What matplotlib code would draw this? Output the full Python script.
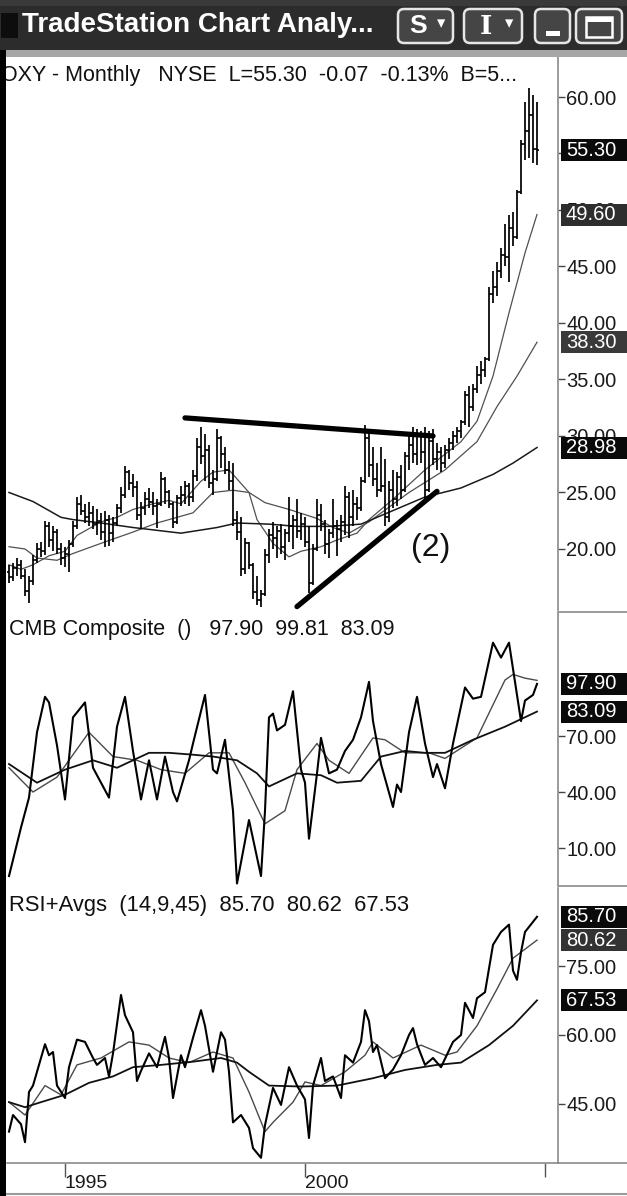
import matplotlib
matplotlib.use("Agg")
import matplotlib.pyplot as plt
import matplotlib.transforms as mtransforms
from matplotlib.patches import Rectangle, FancyBboxPatch
import numpy as np

plt.rcParams['font.family'] = ['Liberation Sans', 'DejaVu Sans']

# ---------------- data (monthly, index 0 = Nov 1993 ... 132 = Nov 2004) ----------------
first_year, first_month = 1993, 11
year_ticks = [1995, 2000, 2005]
year_labels = ['1995', '2000', '']

opens = [18.0, 17.5, 18.3, 18.6, 17.6, 16.3, 17.2,
         19.0, 20.0, 19.8, 22.0, 20.8, 21.5, 20.0, 19.2, 19.6,
         20.4, 22.0, 24.0, 23.4, 22.8, 23.2, 22.2, 22.5, 21.5, 22.6, 21.4, 22.3,
         23.6, 24.8, 26.8, 25.8, 25.5, 23.0,
         23.6, 24.4, 24.2, 23.8, 24.0, 26.2, 25.0, 24.0, 22.4, 24.5, 24.8, 25.6,
         24.6, 26.5, 29.0, 28.2, 28.8, 25.8, 26.2, 29.8, 28.4, 27.0,
         26.0, 22.6, 21.5, 18.2, 20.5, 18.6, 16.2, 15.5, 16.0, 19.5,
         21.2, 21.0, 21.6, 20.2, 21.4, 22.0, 22.6, 21.6, 22.2,
         20.6, 17.0, 20.0, 23.0, 22.2, 20.4, 21.4, 22.0, 21.8,
         22.4, 24.6, 22.8, 24.0, 23.6, 26.0, 29.8,
         27.4, 26.2, 25.2, 25.6, 22.8, 25.2, 24.4, 26.4, 25.2, 28.2, 29.2, 28.4, 30.2, 28.6,
         25.2, 29.6, 28.0, 28.6, 27.6, 28.8, 29.4, 30.0, 30.4, 31.2, 33.6, 32.6, 34.2, 35.4,
         35.8, 36.8, 42.6, 43.2, 44.6, 46.0, 45.8, 48.4, 47.6, 51.6, 55.8, 57.0, 58.4, 55.37]
highs = [18.6, 18.8, 19.2, 19.0, 18.2, 17.6, 19.5,
         20.5, 20.6, 22.5, 22.4, 22.0, 21.8, 20.5, 20.2, 20.8,
         22.5, 24.6, 24.8, 24.0, 24.2, 23.8, 23.5, 23.2, 23.4, 23.0, 22.8, 24.0,
         25.5, 27.3, 27.0, 26.6, 26.0, 24.2,
         25.0, 25.4, 25.0, 24.4, 26.8, 26.4, 25.2, 24.2, 24.8, 25.6, 26.0, 25.8,
         27.0, 29.8, 30.8, 30.2, 29.2, 27.0, 30.6, 30.0, 29.0, 27.8,
         27.6, 23.4, 22.8, 21.0, 20.6, 18.8, 17.6, 16.4, 20.0, 21.8,
         22.4, 22.0, 22.2, 21.8, 24.6, 23.0, 24.4, 23.2, 22.8,
         22.0, 20.4, 24.4, 24.0, 22.6, 21.8, 24.4, 22.6, 23.0,
         25.6, 25.0, 25.2, 24.6, 26.4, 31.0, 30.6,
         29.0, 27.6, 29.0, 28.0, 26.0, 27.0, 26.8, 27.4, 28.6, 30.0, 30.8, 30.6, 30.4, 30.8,
         30.4, 30.6, 29.4, 29.0, 29.2, 29.8, 30.4, 30.8, 31.4, 34.0, 34.4, 34.6, 36.2, 36.6,
         37.0, 43.2, 44.6, 45.4, 46.6, 48.8, 49.6, 49.8, 51.8, 56.2, 59.6, 60.8, 60.2, 59.6]
lows = [17.0, 17.2, 17.6, 17.3, 15.8, 15.2, 16.8,
        18.8, 19.3, 19.5, 20.2, 19.8, 19.6, 18.6, 18.4, 18.0,
        20.2, 21.8, 23.0, 22.3, 22.0, 21.8, 21.2, 20.8, 20.2, 20.3, 20.6, 22.0,
        23.2, 24.5, 25.2, 24.6, 22.6, 21.8,
        23.0, 23.6, 23.0, 21.9, 23.8, 24.0, 23.6, 21.9, 22.2, 23.8, 24.0, 23.8,
        24.2, 26.0, 27.5, 26.0, 25.4, 24.8, 26.0, 27.2, 26.6, 25.2,
        22.0, 20.8, 17.6, 17.8, 18.2, 15.6, 15.0, 14.9, 15.8, 18.8,
        20.0, 19.2, 19.6, 19.0, 20.6, 20.0, 21.0, 20.8, 20.2,
        16.1, 16.8, 19.8, 21.6, 19.6, 19.2, 21.0, 19.4, 20.6,
        21.2, 21.0, 22.0, 22.6, 23.4, 25.8, 26.4,
        25.6, 24.6, 25.0, 22.0, 22.4, 23.6, 23.8, 24.4, 25.0, 27.0, 27.6, 27.4, 27.6, 24.4,
        25.0, 27.4, 27.0, 26.8, 27.2, 28.0, 28.8, 29.4, 29.8, 31.0, 30.8, 32.2, 33.8, 34.6,
        35.2, 36.6, 41.8, 42.4, 44.0, 45.0, 43.6, 46.8, 47.4, 51.4, 54.4, 54.6, 54.2, 54.0]
closes = [17.5, 18.3, 18.6, 17.6, 16.3, 17.2, 19.0,
          20.0, 19.8, 22.0, 20.8, 21.5, 20.0, 19.2, 19.6, 20.4,
          22.0, 24.0, 23.4, 22.8, 23.2, 22.2, 22.5, 21.5, 22.6, 21.4, 22.3, 23.6,
          24.8, 26.8, 25.8, 25.5, 23.0, 23.6,
          24.4, 24.2, 23.8, 24.0, 26.2, 25.0, 24.0, 22.4, 24.5, 24.8, 25.6, 24.6,
          26.5, 29.0, 28.2, 28.8, 25.8, 26.2, 29.8, 28.4, 27.0, 26.0,
          22.6, 21.5, 18.2, 20.5, 18.6, 16.2, 15.5, 16.0, 19.5, 21.2,
          21.0, 21.6, 20.2, 21.4, 22.0, 22.6, 21.6, 22.2, 20.6,
          17.0, 20.0, 23.0, 22.2, 20.4, 21.4, 22.0, 21.8, 22.4,
          24.6, 22.8, 24.0, 23.6, 26.0, 29.8, 27.4,
          26.2, 25.2, 25.6, 22.8, 25.2, 24.4, 26.4, 25.2, 28.2, 29.2, 28.4, 30.2, 28.6, 25.2,
          29.6, 28.0, 28.6, 27.6, 28.8, 29.4, 30.0, 30.4, 31.2, 33.6, 32.6, 34.2, 35.4, 35.8,
          36.8, 42.6, 43.2, 44.6, 46.0, 45.8, 48.4, 47.6, 51.6, 55.8, 57.0, 58.4, 55.37, 55.3]

# price moving averages (month index, value)
ma_fast_m = [0, 3, 6, 10, 14, 17, 23, 27, 31, 36, 40, 43, 46, 48, 51, 55, 57, 60, 62, 66,
             70, 73, 78, 82, 87, 90, 96, 104, 113, 117, 121, 125, 129, 132]
ma_fast_v = [18.6, 18.2, 18.6, 19.4, 19.8, 21.2, 22.4, 22.8, 23.5, 24.0, 24.3, 24.0, 25.2, 26.0,
             26.8, 27.0, 26.2, 25.0, 22.6, 20.5, 19.3, 19.8, 20.2, 20.8, 21.4, 22.6, 24.4, 27.0,
             29.5, 31.3, 35.3, 40.9, 46.2, 49.6]
ma_mid_m = [0, 4, 7, 12, 16, 23, 31, 37, 46, 51, 56, 60, 64, 70, 77, 81, 85, 90, 100, 109,
            117, 122, 127, 132]
ma_mid_v = [20.2, 20.0, 19.2, 19.0, 19.6, 20.5, 21.5, 22.3, 23.2, 25.0, 25.2, 25.0, 24.1, 23.5,
            22.7, 21.9, 21.4, 22.4, 25.0, 27.0, 29.5, 32.6, 35.3, 38.3]
ma_slow_m = [0, 6, 13, 16, 23, 31, 43, 52, 57, 65, 72, 80, 88, 96, 104, 113, 121, 126, 132]
ma_slow_v = [25.0, 24.2, 22.8, 22.6, 22.3, 21.9, 21.4, 21.9, 22.3, 22.2, 22.0, 22.0, 22.2, 23.4,
             24.6, 25.4, 26.6, 27.6, 28.98]

# hand-drawn trendlines
res_line_m = [44, 106]
res_line_v = [31.6, 30.0]
sup_line_m = [72, 107]
sup_line_v = [14.9, 25.1]
note_m, note_v, note_text = 105.5, 20.1, '(2)'

# CMB composite
cmb_m = [0, 3, 5, 7, 9, 10, 12, 14, 16, 19, 21, 23, 25, 27, 29, 31, 33, 35, 37, 39,
         41, 42, 45, 46, 49, 51, 52, 54, 56, 57, 60, 63, 64, 65, 66, 67, 69, 71, 73, 74,
         75, 77, 78, 80, 82, 84, 86, 88, 90, 91, 93, 96, 97, 98, 100, 102, 104, 106, 107, 109,
         111, 114, 116, 118, 121, 123, 125, 128, 129, 131, 132]
cmb_v = [-5, 21, 37, 72, 91, 88, 65, 36, 80, 88, 53, 45, 37, 75, 91, 62, 36, 57, 36, 59,
         40, 35, 57, 66, 92, 52, 50, 68, 30, -9, 25, -5, 30, 80, 82, 73, 76, 94, 52, 45,
         15, 50, 69, 50, 52, 62, 68, 80, 99, 78, 55, 32, 44, 40, 72, 91, 66, 48, 55, 42,
         66, 96, 90, 91, 120, 112, 120, 78, 89, 92, 97.9]
cmb_mid_m = [0, 6, 12, 20, 26, 32, 38, 44, 50, 55, 59, 64, 69, 72, 77, 80, 85, 91, 94, 99,
             105, 109, 117, 124, 126, 129, 132]
cmb_mid_v = [53, 40, 48, 72, 59, 57, 52, 50, 61, 61, 45, 23, 30, 52, 66, 57, 50, 69, 68, 61,
             61, 58, 69, 100, 103, 101, 99.81]
cmb_slow_m = [0, 7, 14, 21, 27, 35, 40, 46, 51, 57, 62, 65, 72, 78, 82, 88, 93, 99, 104, 109,
              116, 124, 132]
cmb_slow_v = [55, 45, 52, 57, 53, 61, 61, 60, 59, 57, 50, 43, 50, 49, 45, 46, 59, 62, 61, 61,
              68, 75, 83.09]

# RSI + averages
rsi_m = [0, 1, 3, 4, 5, 6, 9, 10, 11, 12, 14, 15, 17, 19, 21, 22, 24, 25, 26, 28,
         29, 31, 32, 33, 35, 37, 39, 40, 41, 43, 44, 46, 48, 49, 51, 53, 54, 55, 56, 58,
         60, 61, 63, 64, 66, 68, 70, 72, 74, 75, 76, 78, 79, 81, 83, 84, 86, 88, 89, 90,
         91, 92, 94, 96, 98, 100, 101, 102, 104, 106, 108, 111, 113, 114, 116, 117, 119, 121, 123, 125,
         126, 127, 128, 129, 131, 132]
rsi_v = [39, 42.6, 40.6, 36.7, 47.6, 49, 58, 55.6, 56.3, 49, 46.3, 53, 59, 58.5, 55, 53.5, 55, 51, 56, 68.7,
         64.3, 60.6, 50, 52.2, 56, 53, 59.6, 55, 46.3, 55.6, 53, 59.4, 65.4, 62, 52, 60.6, 59, 52, 41, 42.6,
         39.8, 35.4, 33.3, 40.4, 48.5, 44.8, 53, 49, 46, 37.6, 49, 55, 50, 51, 46.3, 55.6, 54, 58.5, 65.4, 63,
         56.3, 57.8, 50.6, 52.5, 55.6, 60, 61.5, 58, 53.5, 55, 53, 58.5, 60, 67, 63.7, 68, 69.3, 79.6, 82.4, 84,
         74, 72, 78, 82.4, 84.6, 85.7]
rsi_mid_m = [0, 4, 9, 13, 17, 23, 30, 35, 40, 45, 51, 56, 60, 64, 66, 71, 74, 78, 84, 89,
             91, 96, 103, 109, 112, 117, 122, 126, 132]
rsi_mid_v = [45.4, 42.6, 49, 47, 53.5, 55, 58.5, 57.8, 55, 54, 56.3, 55, 47.6, 39, 41, 45.4, 49.8, 49, 52, 55.6,
             58.5, 55, 57.8, 55.6, 56.3, 62, 70, 76.7, 80.62]
rsi_slow_m = [0, 4, 8, 14, 20, 26, 31, 38, 46, 53, 57, 60, 65, 73, 82, 91, 99, 107, 113, 120, 126, 132]
rsi_slow_v = [45.4, 44.3, 45.4, 47, 49.6, 51, 53, 53.5, 54.2, 55, 54, 52, 49, 48.8, 49, 50.6, 52.4, 53.5,
              54, 57.8, 62, 67.53]

price_ticks = [20, 25, 30, 35, 40, 45, 50, 55, 60]
price_tick_labels = ['20.00', '25.00', '30.00', '35.00', '40.00', '45.00', '50.00', '', '60.00']
cmb_ticks = [10, 40, 70]
cmb_tick_labels = ['10.00', '40.00', '70.00']
rsi_ticks = [45, 60, 75]
rsi_tick_labels = ['45.00', '60.00', '75.00']

price_boxes = [(55.30, '55.30', '#0a0a0a'), (49.60, '49.60', '#2e2e2e'),
               (38.30, '38.30', '#3a3a3a'), (28.98, '28.98', '#0a0a0a')]
cmb_boxes = [(97.90, '97.90', '#0a0a0a'), (83.09, '83.09', '#0a0a0a')]
rsi_boxes = [(85.70, '85.70', '#0a0a0a'), (80.62, '80.62', '#333333'), (67.53, '67.53', '#0a0a0a')]

title_text = 'TradeStation Chart Analy...'
price_header = 'OXY - Monthly   NYSE  L=55.30  -0.07  -0.13%  B=5...'
cmb_header = 'CMB Composite  ()   97.90  99.81  83.09'
rsi_header = 'RSI+Avgs  (14,9,45)  85.70  80.62  67.53'

# ---------------- figure ----------------
W, H, DPI = 627, 1196, 100
fig = plt.figure(figsize=(W / DPI, H / DPI), dpi=DPI)
fig.patch.set_facecolor('white')


def px_axes(x0, y0, x1, y1):
    return fig.add_axes([x0 / W, 1 - y1 / H, (x1 - x0) / W, (y1 - y0) / H])


XL = (-0.5, 137.25)
ax_p = px_axes(7, 57, 558, 610)
ax_c = px_axes(7, 613, 558, 885)
ax_r = px_axes(7, 888, 558, 1163)
ax_p.set_ylim(14.6, 63.54)
ax_c.set_ylim(-9.8, 135.9)
ax_r.set_ylim(32.17, 91.96)

for ax, ticks, labels in ((ax_p, price_ticks, price_tick_labels),
                          (ax_c, cmb_ticks, cmb_tick_labels),
                          (ax_r, rsi_ticks, rsi_tick_labels)):
    ax.set_xlim(*XL)
    for s in ('top', 'left', 'bottom'):
        ax.spines[s].set_visible(False)
    ax.spines['right'].set_color('#8a8a8a')
    ax.spines['right'].set_linewidth(1.2)
    ax.yaxis.tick_right()
    ax.set_yticks(ticks)
    ax.set_yticklabels(labels)
    ax.tick_params(axis='y', length=5, width=1, color='#444', pad=1,
                   labelsize=14.5, labelcolor='#1a1a1a')
    ax.set_xticks([])

# x axis (bottom)
tick_idx = [(y - first_year) * 12 + (1 - first_month) for y in year_ticks]
ax_r.spines['bottom'].set_visible(True)
ax_r.spines['bottom'].set_color('#8a8a8a')
ax_r.spines['bottom'].set_linewidth(1.2)
ax_r.set_xticks(tick_idx)
ax_r.set_xticklabels(year_labels, ha='left')
ax_r.tick_params(axis='x', length=10, width=1, color='#555', pad=-1, labelsize=14,
                 labelcolor='#1a1a1a')

# price bars
idx = np.arange(len(closes))
o = np.array(opens); h = np.array(highs); l = np.array(lows); c = np.array(closes)
top = np.maximum.reduce([h, o, c])
bot = np.minimum.reduce([l, o, c])
ax_p.vlines(idx, bot, top, color='black', lw=1.25, zorder=3)
ax_p.hlines(o, idx - 0.5, idx, color='black', lw=1.2, zorder=3)
ax_p.hlines(c, idx, idx + 0.5, color='black', lw=1.2, zorder=3)

ax_p.plot(ma_fast_m, ma_fast_v, color='#505050', lw=0.9, zorder=2)
ax_p.plot(ma_mid_m, ma_mid_v, color='#505050', lw=0.9, zorder=2)
ax_p.plot(ma_slow_m, ma_slow_v, color='#1a1a1a', lw=1.1, zorder=2)
ax_p.plot(res_line_m, res_line_v, color='black', lw=3.8, solid_capstyle='round', zorder=4)
ax_p.plot(sup_line_m, sup_line_v, color='black', lw=3.8, solid_capstyle='round', zorder=4)
ax_p.text(note_m, note_v, note_text, fontsize=23, ha='center', va='center', color='#111')

# CMB
ax_c.plot(cmb_m, cmb_v, color='black', lw=1.5, zorder=3)
ax_c.plot(cmb_mid_m, cmb_mid_v, color='#4a4a4a', lw=1.0, zorder=2)
ax_c.plot(cmb_slow_m, cmb_slow_v, color='#111', lw=1.3, zorder=2)

# RSI
ax_r.plot(rsi_m, rsi_v, color='black', lw=1.5, zorder=3)
ax_r.plot(rsi_mid_m, rsi_mid_v, color='#4a4a4a', lw=1.0, zorder=2)
ax_r.plot(rsi_slow_m, rsi_slow_v, color='#111', lw=1.3, zorder=2)


def value_boxes(ax, boxes):
    pos = ax.get_position()
    ax_h_px = pos.height * H
    ax_w_px = pos.width * W
    y0, y1 = ax.get_ylim()
    ppu = ax_h_px / (y1 - y0)
    dy = 22 / ppu
    trans = mtransforms.blended_transform_factory(ax.transAxes, ax.transData)
    for val, txt, col in boxes:
        ax.add_patch(Rectangle((1 + 3 / ax_w_px, val - dy / 2), 80 / ax_w_px, dy,
                               transform=trans, facecolor=col, edgecolor='none',
                               clip_on=False, zorder=10))
        ax.text(1 + 8 / ax_w_px, val, txt, transform=trans, color='white',
                fontsize=14.5, va='center', ha='left', clip_on=False, zorder=11)


value_boxes(ax_p, price_boxes)
value_boxes(ax_c, cmb_boxes)
value_boxes(ax_r, rsi_boxes)

# ---------------- overlay (window chrome, headers) ----------------
ov = fig.add_axes([0, 0, 1, 1], zorder=20)
ov.set_xlim(0, W)
ov.set_ylim(H, 0)
ov.axis('off')
ov.patch.set_alpha(0)

# title bar
ov.add_patch(Rectangle((0, 0), W, 50, facecolor='#2c2c2c', edgecolor='none'))
ov.add_patch(Rectangle((0, 0), W, 6, facecolor='#3a3a3a', edgecolor='none'))
ov.add_patch(Rectangle((0, 50), W, 7, facecolor='#a6a6a6', edgecolor='none'))
ov.add_patch(Rectangle((1, 13), 17, 25, facecolor='#0d0d0d', edgecolor='none'))
ov.text(22, 25, title_text, color='white', fontsize=20, fontweight='bold',
        va='center', ha='left')
for (x0, x1) in [(398, 453), (464, 522), (535, 570), (576, 622)]:
    ov.add_patch(FancyBboxPatch((x0, 9), x1 - x0, 34,
                                boxstyle='round,pad=0,rounding_size=6',
                                facecolor='#454545', edgecolor='#e6e6e6', lw=1.8))
ov.text(418, 26, 'S', color='white', fontsize=19, fontweight='bold', va='center', ha='center')
ov.text(441, 23, '▾', color='white', fontsize=12, va='center', ha='center',
        family=['DejaVu Sans'])
ov.text(486, 26, 'I', color='white', fontsize=19, fontweight='bold', va='center', ha='center',
        family=['DejaVu Serif'])
ov.text(509, 23, '▾', color='white', fontsize=12, va='center', ha='center',
        family=['DejaVu Sans'])
ov.add_patch(Rectangle((546, 31), 14, 5, facecolor='white', edgecolor='none'))
ov.add_patch(Rectangle((586, 17), 26, 20, facecolor='none', edgecolor='white', lw=1.8))
ov.add_patch(Rectangle((586, 17), 26, 5, facecolor='white', edgecolor='none'))

# separators on the right panel and bottom axis extension
ov.plot([558, 627], [612, 612], color='#8a8a8a', lw=1.2)
ov.plot([558, 627], [886, 886], color='#8a8a8a', lw=1.2)
ov.plot([558, 627], [1163, 1163], color='#8a8a8a', lw=1.2)
ov.plot([0, 627], [1194, 1194], color='#9a9a9a', lw=1.5)

# headers
ov.text(1, 75, price_header, fontsize=15.5, color='#111', va='center', ha='left')
ov.text(9, 630, cmb_header, fontsize=15.5, color='#111', va='center', ha='left')
ov.text(9, 905, rsi_header, fontsize=15.8, color='#111', va='center', ha='left')

# left black border
ov.add_patch(Rectangle((0, 50), 6, H - 50, facecolor='black', edgecolor='none', zorder=30))

fig.savefig('out.png', dpi=DPI, facecolor='white')
